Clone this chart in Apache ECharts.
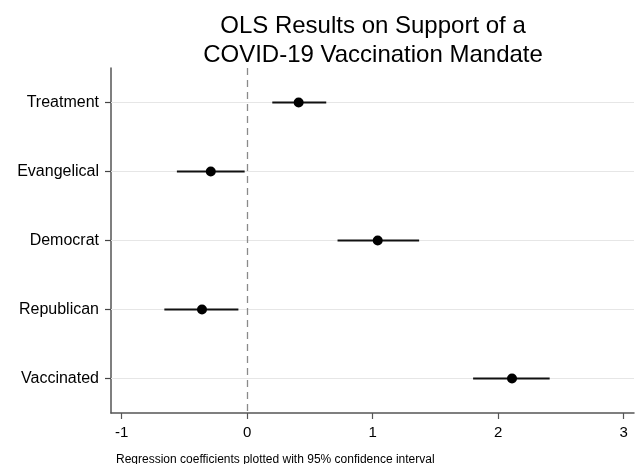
<!DOCTYPE html>
<html>
<head>
<meta charset="utf-8">
<script src="https://cdn.jsdelivr.net/npm/echarts@6/dist/echarts.min.js"></script>
<style>
  html, body { margin: 0; padding: 0; background: #fff; }
  #chart { width: 639px; height: 464px; }
</style>
</head>
<body>
<div id="chart"></div>
<script>
// coefficient plot data, top to bottom
var variables = ['Treatment', 'Evangelical', 'Democrat', 'Republican', 'Vaccinated']
var coefs = [0.41, -0.29, 1.04, -0.36, 2.11]
var ciLow = [0.20, -0.56, 0.72, -0.66, 1.80]
var ciHigh = [0.63, -0.02, 1.37, -0.07, 2.41]
var xTicks = [-1, 0, 1, 2, 3]

var font = 'Liberation Sans, Arial, Helvetica, sans-serif'

var ciData = variables.map(function (v, i) { return [ciLow[i], ciHigh[i], v] })
var pointData = variables.map(function (v, i) { return [coefs[i], v] })

var myChart = echarts.init(document.getElementById('chart'))
myChart.setOption({
  animation: false,
  title: [
    {
      text: 'OLS Results on Support of a\nCOVID-19 Vaccination Mandate',
      left: 368,
      top: 7,
      textAlign: 'center',
      textStyle: { fontFamily: font, fontSize: 24, fontWeight: 'normal', color: '#000', lineHeight: 29 }
    },
    {
      text: 'Regression coefficients plotted with 95% confidence interval',
      left: 111,
      top: 449,
      textStyle: { fontFamily: font, fontSize: 12, fontWeight: 'normal', color: '#000' }
    }
  ],
  grid: { left: 111, right: 5, top: 68, bottom: 51, containLabel: false },
  xAxis: {
    type: 'value',
    min: -1.085,
    max: 3.082,
    axisLine: { show: true, onZero: false, lineStyle: { color: '#555', width: 1.5 } },
    axisTick: { show: true, length: 6, customValues: xTicks, lineStyle: { color: '#555', width: 1.2 } },
    axisLabel: { customValues: xTicks, margin: 12, fontFamily: font, fontSize: 15, color: '#000' },
    splitLine: { show: false }
  },
  yAxis: {
    type: 'category',
    data: variables,
    inverse: true,
    boundaryGap: true,
    axisLine: { show: true, onZero: false, lineStyle: { color: '#555', width: 1.5 } },
    axisTick: { show: true, alignWithLabel: true, length: 6, lineStyle: { color: '#444', width: 1.2 } },
    axisLabel: { margin: 12, fontFamily: font, fontSize: 16, color: '#000' },
    splitLine: { show: false }
  },
  series: [
    {
      // light horizontal guide lines + dashed zero line
      type: 'line',
      data: [],
      silent: true,
      z: 1,
      markLine: {
        z: 1,
        symbol: 'none',
        silent: true,
        label: { show: false },
        data: variables.map(function (v) {
          return { yAxis: v, lineStyle: { color: '#e6e6e6', width: 1.2, type: 'solid' } }
        }).concat([{ xAxis: 0, lineStyle: { color: '#8a8a8a', width: 1.3, type: [7, 5] } }])
      }
    },
    {
      type: 'custom',
      data: ciData,
      encode: { x: [0, 1], y: 2 },
      renderItem: function (params, api) {
        var p1 = api.coord([api.value(0), api.value(2)])
        var p2 = api.coord([api.value(1), api.value(2)])
        return {
          type: 'line',
          shape: { x1: p1[0], y1: p1[1], x2: p2[0], y2: p2[1] },
          style: { stroke: '#111', lineWidth: 2 }
        }
      },
      z: 3
    },
    {
      type: 'scatter',
      data: pointData,
      symbol: 'circle',
      symbolSize: 10,
      itemStyle: { color: '#000', opacity: 1 },
      z: 4
    }
  ]
})
</script>
</body>
</html>
